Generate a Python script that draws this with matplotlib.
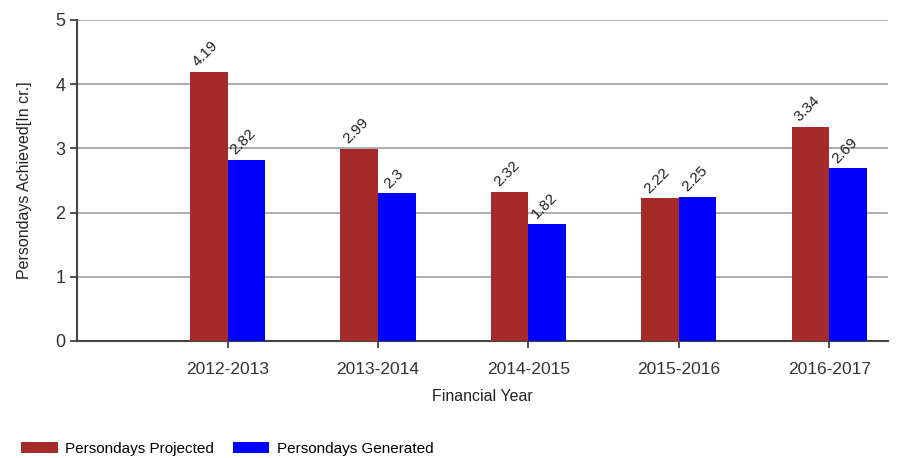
import matplotlib
matplotlib.use("Agg")
import matplotlib.pyplot as plt
import numpy as np

plt.rcParams["font.family"] = ["Liberation Sans", "DejaVu Sans"]

years = ["2012-2013", "2013-2014", "2014-2015", "2015-2016", "2016-2017"]
projected = [4.19, 2.99, 2.32, 2.22, 3.34]
generated = [2.82, 2.3, 1.82, 2.25, 2.69]

fig = plt.figure(figsize=(9.07, 4.58), dpi=100)
ax = fig.add_axes([0.085, 0.2555, 0.894, 0.701])

x = np.arange(len(years))
w = 0.25
b1 = ax.bar(x - w / 2, projected, w, color="#a52a2a", label="Persondays Projected", zorder=3)
b2 = ax.bar(x + w / 2, generated, w, color="#0000ff", label="Persondays Generated", zorder=3)

for bars, vals in ((b1, projected), (b2, generated)):
    for r, v in zip(bars, vals):
        ax.text(r.get_x() + r.get_width() / 2 - 0.02, v + 0.04, f"{v:g}", rotation=45,
                ha="center", va="bottom", fontsize=11, color="#222222")

ax.set_xlim(-1.0, 4.39)
ax.set_ylim(0, 5)
ax.set_xticks(x)
ax.set_xticklabels(years, fontsize=12.5, color="#222222")
ax.set_yticks(range(6))
ax.tick_params(axis="y", labelsize=13, colors="#333333", length=5, width=1.2)
ax.tick_params(axis="x", length=5, width=1.2, colors="#333333", pad=10)
ax.yaxis.grid(True, color="#a0a0a0", linewidth=1.2, zorder=0)
ax.set_axisbelow(True)

for s in ("top", "right"):
    ax.spines[s].set_visible(False)
for s in ("left", "bottom"):
    ax.spines[s].set_color("#444444")
    ax.spines[s].set_linewidth(1.5)

ax.set_xlabel("Financial Year", fontsize=11.5, color="#222222", labelpad=9)
ax.set_ylabel("Persondays Achieved[In cr.]", fontsize=11.5, color="#222222", labelpad=17)

fig.legend(handles=[b1, b2], loc="lower left", bbox_to_anchor=(0.008, -0.026), ncol=2,
           frameon=False, fontsize=11, handlelength=2.4, handleheight=0.7,
           columnspacing=1.2, handletextpad=0.5)

fig.savefig("out.png", dpi=100)
